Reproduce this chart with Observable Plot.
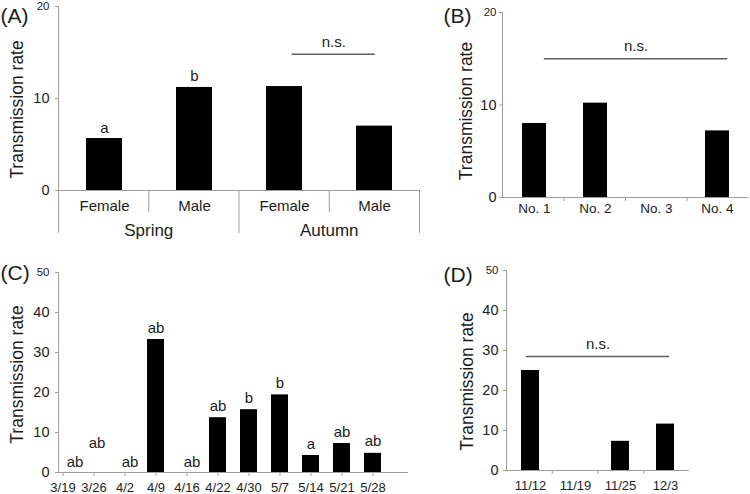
<!DOCTYPE html>
<html>
<head>
<meta charset="utf-8">
<script src="https://cdn.jsdelivr.net/npm/d3@7"></script>
<script src="https://cdn.jsdelivr.net/npm/@observablehq/plot@0.6"></script>
<style>
  html, body { margin: 0; padding: 0; background: #fff; }
  #chart { position: relative; width: 750px; height: 494px; overflow: hidden; background: #fff; }
  #chart svg { position: absolute; left: 0; top: 0; }
</style>
</head>
<body>
<div id="chart"></div>
<script>
// ---------------- data ----------------
const panelA_sex = ["Female", "Male", "Female", "Male"];
const panelA_season = ["Spring", "Spring", "Autumn", "Autumn"];
const panelA_rate = [5.65, 11.2, 11.3, 7.0];
const panelA_letters = ["a", "b", "", ""];
const panelA_nsPair = ["Autumn|Female", "Autumn|Male"];
const panelA_nsLevel = [14.8];
const panelA_yTicks = [0, 10, 20];

const panelB_flies = ["No. 1", "No. 2", "No. 3", "No. 4"];
const panelB_rate = [8.0, 10.2, 0, 7.2];
const panelB_nsPair = ["No. 1", "No. 4"];
const panelB_nsLevel = [15];
const panelB_yTicks = [0, 10, 20];

const panelC_dates = ["3/19", "3/26", "4/2", "4/9", "4/16", "4/22", "4/30", "5/7", "5/14", "5/21", "5/28"];
const panelC_rate = [0, 0, 0, 33.25, 0, 13.7, 15.7, 19.4, 4.25, 7.25, 4.8];
const panelC_letters = ["ab", "ab", "ab", "ab", "ab", "ab", "b", "b", "a", "ab", "ab"];
const panelC_yTicks = [0, 10, 20, 30, 40, 50];

const panelD_dates = ["11/12", "11/19", "11/25", "12/3"];
const panelD_rate = [25, 0, 7.3, 11.6];
const panelD_nsPair = ["11/12", "12/3"];
const panelD_nsLevel = [28.5];
const panelD_yTicks = [0, 10, 20, 30, 40, 50];

const yTitle = "Transmission rate";

// ---------------- styles ----------------
const W = 750, H = 494;
const GRAY = "#9d9d9d", INK = "#1c1c1c", NS = "#5f5f5f";
const STYLE = 'font-family: "Liberation Sans", Arial, Helvetica, sans-serif; font-size: 14px; color: #1c1c1c; background: transparent; overflow: visible; position: absolute; left: 0; top: 0;';
const chart = document.getElementById("chart");
const add = (p) => chart.appendChild(p);

function yAxisMarks(ticks, pad, topSize) {
  const top = ticks[ticks.length - 1];
  return [
    Plot.axisY({ticks, tickSize: 3, tickPadding: pad, fontSize: 14.5, stroke: GRAY,
      tickFormat: (d) => (d === top ? "" : String(d)), label: null}),
    Plot.text([top], {y: (d) => d, text: (d) => String(d), frameAnchor: "left",
      textAnchor: "end", dx: -(3 + pad), fontSize: topSize})
  ];
}
function titleMark(dx, dy) {
  return Plot.text([yTitle], {frameAnchor: "top-left", rotate: -90, textAnchor: "middle",
    lineAnchor: "middle", dx, dy, fontSize: 17.5});
}
function panelLabel(t, dx, dy) {
  return Plot.text([t], {frameAnchor: "top-left", textAnchor: "start", lineAnchor: "bottom",
    dx, dy, fontSize: 21});
}
function nsMarks(level, i1, i2, insetLeft, insetRight, dy) {
  const rows = level.map((v) => ({v, a: i1, b: i2, m: (i1 + i2) / 2}));
  return [
    Plot.ruleY(rows, {y: "v", x1: "a", x2: "b", insetLeft, insetRight, stroke: NS, strokeWidth: 1.5}),
    Plot.text(rows, {x: "m", y: "v", text: () => "n.s.", dx: (insetLeft - insetRight) / 2,
      dy, lineAnchor: "bottom", fontSize: 15})
  ];
}

// ================= Panel A =================
const aKeys = panelA_sex.map((s, i) => panelA_season[i] + "|" + s);
const aData = aKeys.map((k, i) => ({key: k, sex: panelA_sex[i], rate: panelA_rate[i], letter: panelA_letters[i]}));
const aGroups = [...new Set(panelA_season)];
const aGStart = aGroups.map((g) => panelA_season.indexOf(g));
const aGEnd = aGroups.map((g) => panelA_season.lastIndexOf(g) + 1);
const aMajor = [...new Set([...aGStart, ...aGEnd])].filter((v) => v > 0);
const aMinor = d3.range(1, aKeys.length).filter((v) => !aMajor.includes(v));
const aNs = panelA_nsPair.map((k) => aKeys.indexOf(k) + 0.5);

add(Plot.plot({
  width: W, height: H, style: STYLE,
  marginLeft: 58, marginRight: W - 419, marginTop: 6, marginBottom: H - 190,
  x: {domain: aKeys, paddingInner: 0.6, paddingOuter: 0.3},
  y: {domain: [0, 20], axis: null},
  marks: [
    Plot.barY(aData, {x: "key", y: "rate", fill: "#000"}),
    Plot.text(aData, {x: "key", y: "rate", text: "letter", dy: -6, lineAnchor: "bottom", fontSize: 15}),
    Plot.axisX({tickSize: 0, tickPadding: 10, fontSize: 15, label: null, tickFormat: (k) => k.split("|")[1]})
  ]
}));
add(Plot.plot({
  width: W, height: H, style: STYLE,
  marginLeft: 58, marginRight: W - 419, marginTop: 6, marginBottom: H - 233,
  x: {type: "linear", domain: [0, aKeys.length], range: [58, 419], axis: null},
  y: {domain: [0, 20], range: [190, 6], axis: null},
  marks: [
    Plot.ruleY([0], {stroke: GRAY}),
    Plot.ruleX([0], {stroke: GRAY}),
    Plot.ruleX(aMajor, {insetTop: 184, stroke: GRAY}),
    Plot.ruleX(aMinor, {insetTop: 184, insetBottom: 21, stroke: GRAY}),
    ...yAxisMarks(panelA_yTicks, 6, 11.5),
    Plot.text(aGroups, {x: (g, i) => (aGStart[i] + aGEnd[i]) / 2, frameAnchor: "bottom",
      lineAnchor: "middle", dy: -3, fontSize: 17}),
    ...nsMarks(panelA_nsLevel, aNs[0], aNs[1], 8, -1, -7),
    titleMark(-41.5, 103),
    panelLabel("(A)", -58, 16)
  ]
}));

// ================= Panel B =================
const bData = panelB_flies.map((f, i) => ({fly: f, rate: panelB_rate[i]}));
const bNs = panelB_nsPair.map((k) => panelB_flies.indexOf(k) + 0.5);
add(Plot.plot({
  width: W, height: H, style: STYLE,
  marginLeft: 502, marginRight: W - 748, marginTop: 12, marginBottom: H - 197,
  x: {domain: panelB_flies, paddingInner: 0.61, paddingOuter: 0.305},
  y: {domain: [0, 20], axis: null},
  marks: [
    Plot.barY(bData, {x: "fly", y: "rate", fill: "#000"}),
    Plot.axisX({tickSize: 0, tickPadding: 6, fontSize: 13.5, label: null})
  ]
}));
add(Plot.plot({
  width: W, height: H, style: STYLE,
  marginLeft: 502, marginRight: W - 748, marginTop: 12, marginBottom: H - 201,
  x: {type: "linear", domain: [0, panelB_flies.length], range: [502, 748], axis: null},
  y: {domain: [0, 20], range: [197, 12], axis: null},
  marks: [
    Plot.ruleY([0], {stroke: GRAY}),
    Plot.ruleX([0], {y1: 20, y2: 0, stroke: GRAY}),
    Plot.ruleX(d3.range(1, panelB_flies.length), {insetTop: 185, stroke: GRAY}),
    ...yAxisMarks(panelB_yTicks, 3, 11.5),
    ...nsMarks(panelB_nsLevel, bNs[0], bNs[1], 11, -10, -8),
    titleMark(-36.5, 98.5),
    panelLabel("(B)", -59, 10)
  ]
}));

// ================= Panel C =================
const cData = panelC_dates.map((d, i) => ({date: d, rate: panelC_rate[i], letter: panelC_letters[i]}));
const cBandRange = [42.07, 392.5];
const cMain = cData.filter((d) => d.rate > 0);
const cZero = cData.filter((d) => d.rate === 0 && d.date !== panelC_dates[0] && d.date !== panelC_dates[1]);
add(Plot.plot({
  width: W, height: H, style: STYLE,
  marginLeft: 58, marginRight: W - 408, marginTop: 272, marginBottom: H - 472,
  x: {domain: panelC_dates, range: cBandRange, paddingInner: 0.466, paddingOuter: 0.233},
  y: {domain: [0, 50], axis: null},
  marks: [
    Plot.barY(cData, {x: "date", y: "rate", fill: "#000"}),
    Plot.text(cMain, {x: "date", y: "rate", text: "letter", dy: -7, lineAnchor: "bottom", fontSize: 15}),
    Plot.text(cZero, {x: "date", y: "rate", text: "letter", dx: 5, dy: -6, lineAnchor: "bottom", fontSize: 15}),
    Plot.text(cData.slice(0, 1), {x: "date", y: "rate", text: "letter", dx: 12, dy: -6, lineAnchor: "bottom", fontSize: 15}),
    Plot.text(cData.slice(1, 2), {x: "date", y: "rate", text: "letter", dx: 3, dy: -25, lineAnchor: "bottom", fontSize: 15}),
    Plot.axisX({tickSize: 4, tickPadding: 6, fontSize: 13, stroke: GRAY, label: null})
  ]
}));
add(Plot.plot({
  width: W, height: H, style: STYLE,
  marginLeft: 58, marginRight: W - 408, marginTop: 272, marginBottom: H - 472,
  x: {type: "linear", domain: [-0.5, panelC_dates.length - 0.5], range: cBandRange, axis: null},
  y: {domain: [0, 50], range: [472, 272], axis: null},
  marks: [
    Plot.ruleY([0], {stroke: GRAY}),
    Plot.ruleX([0], {y1: 50, y2: 0, stroke: GRAY}),
    ...yAxisMarks(panelC_yTicks, 6, 11.5),
    titleMark(-41.5, 102),
    panelLabel("(C)", -58, 7)
  ]
}));

// ================= Panel D =================
const dData = panelD_dates.map((d, i) => ({date: d, rate: panelD_rate[i]}));
const dNs = panelD_nsPair.map((k) => panelD_dates.indexOf(k) + 0.5);
add(Plot.plot({
  width: W, height: H, style: STYLE,
  marginLeft: 506, marginRight: W - 689, marginTop: 270, marginBottom: H - 470,
  x: {domain: panelD_dates, paddingInner: 0.61, paddingOuter: 0.305},
  y: {domain: [0, 50], axis: null},
  marks: [
    Plot.barY(dData, {x: "date", y: "rate", fill: "#000"}),
    Plot.axisX({tickSize: 0, tickPadding: 10, fontSize: 13, label: null})
  ]
}));
add(Plot.plot({
  width: W, height: H, style: STYLE,
  marginLeft: 506, marginRight: W - 689, marginTop: 270, marginBottom: H - 474,
  x: {type: "linear", domain: [0, panelD_dates.length], range: [506, 689], axis: null},
  y: {domain: [0, 50], range: [470, 270], axis: null},
  marks: [
    Plot.ruleY([0], {stroke: GRAY}),
    Plot.ruleX([0], {y1: 50, y2: 0, stroke: GRAY}),
    Plot.ruleX(d3.range(1, panelD_dates.length), {insetTop: 200, stroke: GRAY}),
    ...yAxisMarks(panelD_yTicks, 5, 11.5),
    ...nsMarks(panelD_nsLevel, dNs[0], dNs[1], -3, -3, -8),
    titleMark(-39.5, 111),
    panelLabel("(D)", -63, 11)
  ]
}));
</script>
</body>
</html>
